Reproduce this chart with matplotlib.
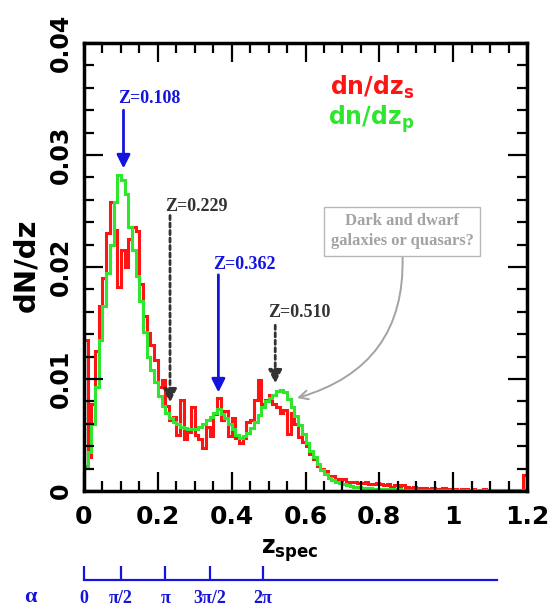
import numpy as np
import matplotlib
matplotlib.use("Agg")
import matplotlib.pyplot as plt
from matplotlib.ticker import MultipleLocator

# redshift histograms, 0.01 wide bins from 0 to 1.2
bin_edges = np.linspace(0, 1.2, 121)

dndz_s = [
    0.0135, 0.0030, 0.0078, 0.0125, 0.0165, 0.0190, 0.0230, 0.0258, 0.0233, 0.0182,
    0.0215, 0.0200, 0.0225, 0.0236, 0.0232, 0.0185, 0.0156, 0.0141, 0.0130, 0.0117,
    0.0093, 0.0099, 0.0076, 0.0063, 0.0066, 0.0050, 0.0081, 0.0046, 0.0053, 0.0075,
    0.0050, 0.0046, 0.0038, 0.0057, 0.0049, 0.0069, 0.0083, 0.0063, 0.0071, 0.0049,
    0.0065, 0.0047, 0.0043, 0.0047, 0.0062, 0.0063, 0.0081, 0.0099, 0.0078, 0.0081,
    0.0086, 0.0078, 0.0075, 0.0070, 0.0072, 0.0051, 0.0070, 0.0060, 0.0048, 0.0044,
    0.0040, 0.0033, 0.0029, 0.0022, 0.0020, 0.0018, 0.0013, 0.0013, 0.0011, 0.0010,
    0.0011, 0.0008, 0.0008, 0.0008, 0.0007, 0.0007, 0.0008, 0.0006, 0.0006, 0.0007,
    0.0006, 0.0005, 0.0006, 0.0004, 0.0005, 0.0004, 0.0005, 0.0004, 0.0003, 0.0004,
    0.0003, 0.0003, 0.0003, 0.0002, 0.0003, 0.0002, 0.0002, 0.0003, 0.0002, 0.0002,
    0.0002, 0.0001, 0.0002, 0.0002, 0.0001, 0.0002, 0.0001, 0.0001, 0.0002, 0.0001,
    0.0001, 0.0001, 0.0001, 0.0001, 0.0001, 0.0001, 0.0001, 0.0001, 0.0001, 0.0014,
]

dndz_p = [
    0.0022, 0.0035, 0.0060, 0.0093, 0.0135, 0.0165, 0.0195, 0.0220, 0.0258, 0.0282,
    0.0278, 0.0265, 0.0236, 0.0215, 0.0192, 0.0170, 0.0142, 0.0120, 0.0108, 0.0097,
    0.0085, 0.0076, 0.0070, 0.0065, 0.0062, 0.0060, 0.0057, 0.0056, 0.0055, 0.0055,
    0.0055, 0.0057, 0.0060, 0.0063, 0.0066, 0.0070, 0.0073, 0.0069, 0.0065, 0.0060,
    0.0055, 0.0050, 0.0047, 0.0049, 0.0052, 0.0056, 0.0062, 0.0068, 0.0075, 0.0080,
    0.0083, 0.0086, 0.0089, 0.0090, 0.0088, 0.0082, 0.0075, 0.0067, 0.0059, 0.0051,
    0.0043, 0.0036, 0.0030, 0.0024, 0.0019, 0.0015, 0.0012, 0.0010, 0.0008, 0.0007,
    0.0006, 0.0005, 0.00045, 0.0004, 0.00035, 0.0003, 0.00028, 0.00025, 0.00022, 0.0002,
    0.0002, 0.00018, 0.00017, 0.00016, 0.00015, 0.00014, 0.00013, 0.00012, 0.00011, 0.0001,
    0.0001, 0.0001, 0.0001, 0.0001, 0.0001, 0.0001, 0.0001, 0.0001, 0.0001, 0.0001,
    0.0001, 0.0001, 0.0001, 0.00009, 0.00009, 0.00009, 0.00008, 0.00008, 0.00008, 0.00008,
    0.00007, 0.00007, 0.00007, 0.00006, 0.00006, 0.00006, 0.00006, 0.00005, 0.00005, 0.00005,
]

xtick_vals = [0, 0.2, 0.4, 0.6, 0.8, 1.0, 1.2]
xtick_labels = ["0", "0.2", "0.4", "0.6", "0.8", "1", "1.2"]
ytick_vals = [0, 0.01, 0.02, 0.03, 0.04]
ytick_labels = ["0", "0.01", "0.02", "0.03", "0.04"]

# peak markers: label, arrow z, arrow top, arrow tip, label x, label y, solid?
peak_labels = ["Z=0.108", "Z=0.229", "Z=0.362", "Z=0.510"]
peak_arrow_z = [0.107, 0.233, 0.364, 0.518]
peak_arrow_top = [0.0340, 0.0246, 0.0193, 0.0148]
peak_arrow_tip = [0.0288, 0.0079, 0.0088, 0.0096]
peak_text_x = [0.092, 0.2195, 0.3496, 0.4986]
peak_text_y = [0.0350, 0.0254, 0.0202, 0.0159]
peak_solid = [True, False, True, False]

# phase axis under the plot
alpha_z = [-0.011, 0.089, 0.211, 0.333, 0.477]
alpha_labels = ["0", "π/2", "π", "3π/2", "2π"]
alpha_span = (-0.011, 1.119)

RED = "#ff1414"
GREEN = "#2ee62e"
BLUE = "#1414dc"
DARK = "#333333"
GREY = "#a3a3a3"

fig = plt.figure(figsize=(5.52, 6.06), dpi=100)
ax = fig.add_axes([84 / 552, 1 - 491 / 606, 443 / 552, 448 / 606])

ax.stairs(dndz_s, bin_edges, color=RED, lw=2.2)
ax.stairs(dndz_p, bin_edges, color=GREEN, lw=2.2)

ax.set_xlim(0, 1.2)
ax.set_ylim(0, 0.04)
ax.set_xticks(xtick_vals)
ax.set_xticklabels(xtick_labels, fontsize=18, fontweight="bold")
ax.set_yticks(ytick_vals)
ax.set_yticklabels(ytick_labels, fontsize=17, fontweight="bold", rotation=90, va="center")
ax.xaxis.set_minor_locator(MultipleLocator(0.05))
ax.yaxis.set_minor_locator(MultipleLocator(0.002))
ax.tick_params(which="both", direction="in", top=True, right=True, width=1.6)
ax.tick_params(which="major", length=14)
ax.tick_params(which="minor", length=7)
ax.tick_params(axis="x", pad=10)
ax.tick_params(axis="y", pad=8)
for s in ax.spines.values():
    s.set_linewidth(2.5)

fig.text(26 / 552, 1 - 265 / 606, "dN/dz", rotation=90, ha="center", va="center",
         fontsize=21, fontweight="bold")
fig.text(290 / 552, 1 - 551 / 606, r"$\mathbf{z}_{\mathbf{spec}}$", ha="center", va="center",
         fontsize=17)

fig.text(414 / 552, 1 - 95 / 606, r"dn/dz$_{\mathbf{s}}$", ha="right", va="baseline",
         fontsize=17, fontweight="bold", color=RED)
fig.text(414 / 552, 1 - 125 / 606, r"dn/dz$_{\mathbf{p}}$", ha="right", va="baseline",
         fontsize=17, fontweight="bold", color=GREEN)

serif = "Liberation Serif"
for lab, z, y0, y1, tx, ty, solid in zip(peak_labels, peak_arrow_z, peak_arrow_top,
                                         peak_arrow_tip, peak_text_x, peak_text_y, peak_solid):
    col = BLUE if solid else DARK
    ls = "-" if solid else (0, (1.5, 1.2))
    ax.annotate("", xy=(z, y1), xytext=(z, y0),
                arrowprops=dict(arrowstyle="-|>", color=col, lw=2, linestyle=ls,
                                mutation_scale=20, shrinkA=0, shrinkB=0))
    ax.text(tx, ty, lab, ha="left", va="center", color=col, fontsize=13,
            fontweight="bold", family=serif)

ax.annotate("Dark and dwarf\ngalaxies or quasars?", xy=(0.577, 0.0083), xytext=(0.862, 0.0232),
            ha="center", va="center", color=GREY, fontsize=12, fontweight="bold",
            family=serif, linespacing=1.3,
            bbox=dict(boxstyle="square,pad=0.4", fc="white", ec="#b8b8b8", lw=1),
            arrowprops=dict(arrowstyle="->", color=GREY, lw=1.4, relpos=(0.5, 0),
                            connectionstyle="arc3,rad=-0.4", shrinkA=0, shrinkB=0,
                            mutation_scale=16))

# alpha axis
ax_a = fig.add_axes([84 / 552, 1 - 580 / 606, 443 / 552, 0.001])
ax_a.set_xlim(0, 1.2)
ax_a.patch.set_visible(False)
for side in ["top", "left", "right"]:
    ax_a.spines[side].set_visible(False)
ax_a.spines["bottom"].set_color(BLUE)
ax_a.spines["bottom"].set_linewidth(1.6)
ax_a.spines["bottom"].set_bounds(*alpha_span)
ax_a.set_yticks([])
ax_a.set_xticks(alpha_z)
ax_a.set_xticklabels(alpha_labels, fontsize=13, fontweight="bold", family=serif)
ax_a.tick_params(axis="x", direction="in", length=10, width=1.6, color=BLUE,
                 labelcolor=BLUE, pad=7)
fig.text(30 / 552, 1 - 597 / 606, "α", ha="center", va="center", fontsize=16,
         fontweight="bold", family=serif, color=BLUE)

fig.savefig("out.png", dpi=100)
